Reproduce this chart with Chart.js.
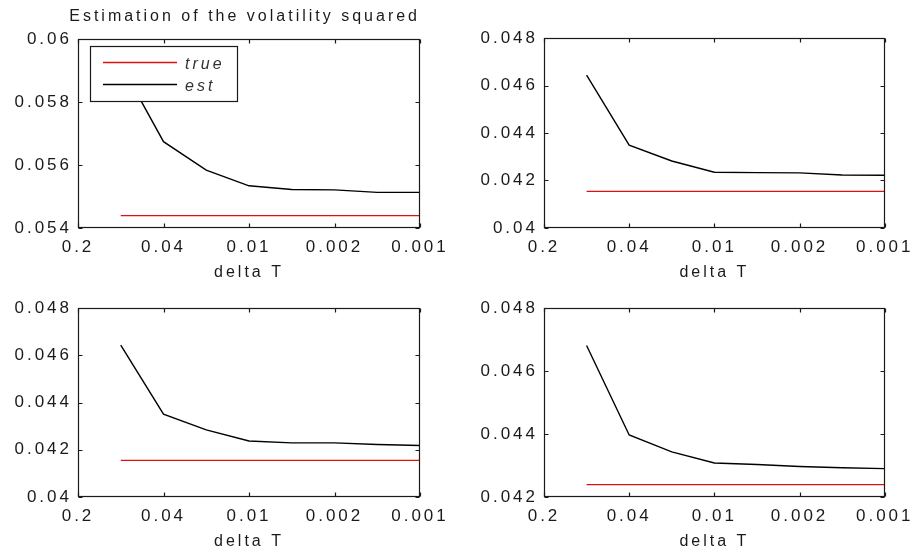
<!DOCTYPE html>
<html>
<head>
<meta charset="utf-8">
<title>Estimation of the volatility squared</title>
<script src="https://cdn.jsdelivr.net/npm/chart.js@4.4.1/dist/chart.umd.min.js"></script>
<style>
  html, body { margin: 0; padding: 0; background: #fff; }
  #wrap { position: relative; width: 915px; height: 553px; }
  #wrap canvas { position: absolute; left: 0; top: 0; }
</style>
</head>
<body>
<div id="wrap">
  <canvas id="c1" width="915" height="553"></canvas>
  <canvas id="c2" width="915" height="553"></canvas>
  <canvas id="c3" width="915" height="553"></canvas>
  <canvas id="c4" width="915" height="553"></canvas>
</div>
<script>
// step number along the x axis (1 = coarsest delta T)
const stepIndex = [1, 2, 3, 4, 5, 6, 7, 8];
const xTickPos = [0, 2, 4, 6, 8];
const xTickLabels = ['0.2', '0.04', '0.01', '0.002', '0.001'];

// panel 1 (top left)
const est1  = [0.0592, 0.05674, 0.05584, 0.05534, 0.05522, 0.05521, 0.05513, 0.05513];
const true1 = [0.05439, 0.05439, 0.05439, 0.05439, 0.05439, 0.05439, 0.05439, 0.05439];
const yTicks1 = [0.054, 0.056, 0.058, 0.06];

// panel 2 (top right)
const est2  = [0.04644, 0.04349, 0.04282, 0.04235, 0.04233, 0.04232, 0.04223, 0.04222];
const true2 = [0.04154, 0.04154, 0.04154, 0.04154, 0.04154, 0.04154, 0.04154, 0.04154];
const yTicks2 = [0.04, 0.042, 0.044, 0.046, 0.048];

// panel 3 (bottom left)
const est3  = [0.04643, 0.04351, 0.04284, 0.04237, 0.04229, 0.04229, 0.04222, 0.04218];
const true3 = [0.04155, 0.04155, 0.04155, 0.04155, 0.04155, 0.04155, 0.04155, 0.04155];
const yTicks3 = [0.04, 0.042, 0.044, 0.046, 0.048];

// panel 4 (bottom right)
const est4  = [0.04681, 0.04397, 0.04343, 0.04308, 0.04303, 0.04297, 0.04293, 0.04290];
const true4 = [0.04239, 0.04239, 0.04239, 0.04239, 0.04239, 0.04239, 0.04239, 0.04239];
const yTicks4 = [0.042, 0.044, 0.046, 0.048];

const INK = '#1a1a1a';
const FAMILY = '"Liberation Sans", Arial, Helvetica, sans-serif';

// matlab-ish wide text
const spacingPlugin = {
  id: 'spacing',
  beforeDraw(chart) { chart.ctx.letterSpacing = '3px'; }
};

// full box + inward tick marks on all four sides
const boxPlugin = {
  id: 'matBox',
  afterDatasetsDraw(chart) {
    const { ctx, chartArea: a, scales: { x, y } } = chart;
    const L = Math.round(a.left) + 0.5, R = Math.round(a.right) - 0.5;
    const T = Math.round(a.top) + 0.5, B = Math.round(a.bottom) - 0.5;
    ctx.save();
    ctx.strokeStyle = INK;
    ctx.lineWidth = 1.2;
    ctx.strokeRect(L, T, R - L, B - T);
    ctx.beginPath();
    x.ticks.forEach(t => {
      const px = Math.round(x.getPixelForValue(t.value)) + 0.5;
      ctx.moveTo(px, B); ctx.lineTo(px, B - 4);
      ctx.moveTo(px, T); ctx.lineTo(px, T + 4);
    });
    y.ticks.forEach(t => {
      const py = Math.round(y.getPixelForValue(t.value)) + 0.5;
      ctx.moveTo(L, py); ctx.lineTo(L + 4, py);
      ctx.moveTo(R, py); ctx.lineTo(R - 4, py);
    });
    ctx.stroke();
    ctx.restore();
  }
};

// boxed legend in the upper left corner of the axes
const legendPlugin = {
  id: 'matLegend',
  afterDraw(chart, args, opts) {
    if (!opts.show) return;
    const { ctx, chartArea: a } = chart;
    const x0 = Math.round(a.left) + 12, y0 = Math.round(a.top) + 7;
    const w = 147, h = 55;
    ctx.save();
    ctx.fillStyle = '#fff';
    ctx.fillRect(x0, y0, w, h);
    ctx.strokeStyle = INK;
    ctx.lineWidth = 1.2;
    ctx.strokeRect(x0 + 0.5, y0 + 0.5, w, h);
    chart.data.datasets.forEach((ds, i) => {
      const ly = y0 + 16 + i * 22;
      ctx.strokeStyle = ds.borderColor;
      ctx.lineWidth = ds.borderWidth;
      ctx.beginPath();
      ctx.moveTo(x0 + 13, ly + 0.5);
      ctx.lineTo(x0 + 87, ly + 0.5);
      ctx.stroke();
      ctx.fillStyle = '#333';
      ctx.font = 'italic 16px ' + FAMILY;
      ctx.textBaseline = 'middle';
      ctx.textAlign = 'left';
      ctx.fillText(ds.label, x0 + 95, ly + 3);
    });
    ctx.restore();
  }
};

function fmt(v) {
  return String(Number(v.toFixed(4)));
}

function makePanel(id, est, tru, yTicks, box, withTitle) {
  const tickFont = { family: FAMILY, size: 17 };
  new Chart(document.getElementById(id), {
    type: 'line',
    data: {
      datasets: [
        {
          label: 'true',
          data: stepIndex.map((s, i) => ({ x: s, y: tru[i] })),
          borderColor: '#e01010',
          borderWidth: 1.3,
          pointRadius: 0,
          tension: 0
        },
        {
          label: 'est',
          data: stepIndex.map((s, i) => ({ x: s, y: est[i] })),
          borderColor: '#000',
          borderWidth: 1.4,
          pointRadius: 0,
          tension: 0
        }
      ]
    },
    options: {
      responsive: false,
      animation: false,
      events: [],
      layout: {
        padding: {
          left: box.L - 70,
          right: 915 - box.R,
          top: withTitle ? 0 : box.T,
          bottom: 553 - box.B - 54
        }
      },
      plugins: {
        legend: { display: false },
        tooltip: { enabled: false },
        title: {
          display: withTitle,
          text: 'Estimation of the volatility squared',
          align: 'end',
          color: INK,
          font: { family: FAMILY, size: 16, weight: 'normal' },
          padding: { top: 7, bottom: 12.8 }
        },
        matLegend: { show: withTitle }
      },
      scales: {
        x: {
          type: 'linear',
          min: 0,
          max: 8,
          afterBuildTicks: s => { s.ticks = xTickPos.map(v => ({ value: v })); },
          afterFit: s => { s.height = 54; },
          grid: { display: false, drawTicks: false },
          border: { display: false },
          ticks: {
            autoSkip: false,
            maxRotation: 0,
            padding: 9,
            color: INK,
            font: tickFont,
            callback: v => xTickLabels[xTickPos.indexOf(v)]
          },
          title: {
            display: true,
            text: 'delta T',
            color: INK,
            font: { family: FAMILY, size: 16 },
            padding: 0
          }
        },
        y: {
          type: 'linear',
          min: yTicks[0],
          max: yTicks[yTicks.length - 1],
          afterBuildTicks: s => { s.ticks = yTicks.map(v => ({ value: v })); },
          afterFit: s => { s.width = 70; },
          grid: { display: false, drawTicks: false },
          border: { display: false },
          ticks: {
            padding: 6,
            color: INK,
            font: tickFont,
            callback: v => fmt(v)
          }
        }
      }
    },
    plugins: [spacingPlugin, boxPlugin, legendPlugin]
  });
}

makePanel('c1', est1, true1, yTicks1, { L: 78, R: 420, T: 39, B: 228 }, true);
makePanel('c2', est2, true2, yTicks2, { L: 544, R: 887, T: 38, B: 228 }, false);
makePanel('c3', est3, true3, yTicks3, { L: 78, R: 420, T: 308, B: 497 }, false);
makePanel('c4', est4, true4, yTicks4, { L: 544, R: 887, T: 308, B: 497 }, false);
</script>
</body>
</html>
